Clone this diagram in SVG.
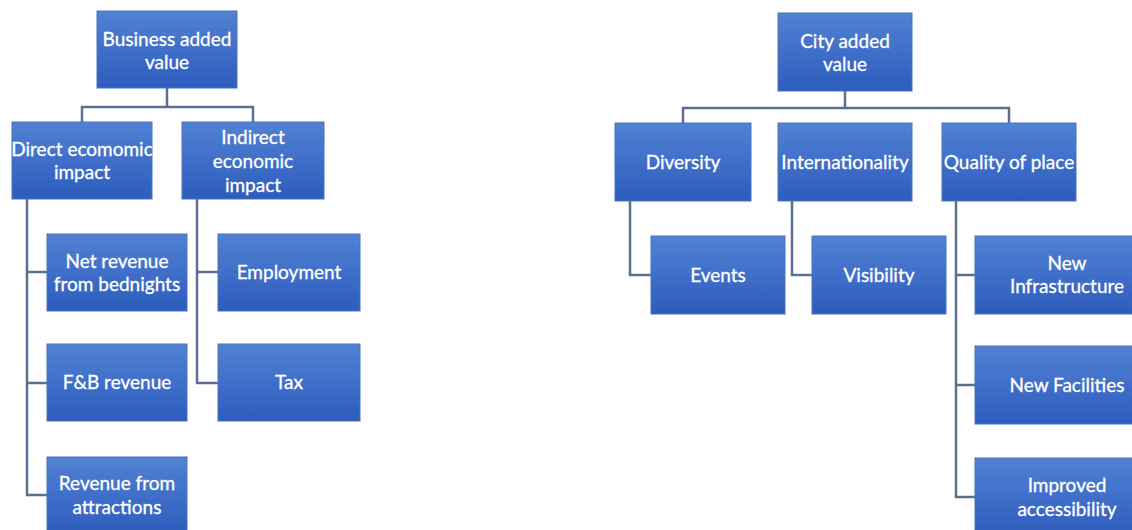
<svg xmlns="http://www.w3.org/2000/svg" width="1132" height="530" viewBox="0 0 1132 530">
  <defs>
    <linearGradient id="boxFill" x1="0" y1="0" x2="0" y2="1">
      <stop offset="0" stop-color="#5282d2"/>
      <stop offset="0.5" stop-color="#3f6fc9"/>
      <stop offset="1" stop-color="#2d5cbd"/>
    </linearGradient>
    <style>
      .box { fill: url(#boxFill); stroke: #4a72bd; stroke-width: 1; }
      .lbl { fill: #ffffff; stroke: #ffffff; stroke-width: 0.3; font-family: Lato, "Open Sans", "Liberation Sans", sans-serif; font-size: 19px; text-anchor: middle; }
      .link { fill: none; stroke: #5b6f93; stroke-width: 2.5; }
    </style>
  </defs>
  <rect width="1132" height="530" fill="#ffffff"/>

  <!-- tree connectors -->
  <g id="connectors">
    <!-- business added value -->
    <path class="link" d="M167,88 V107 M82,122 V107 H253 V122"/>
    <path class="link" d="M27,199 V495 H47 M27,272 H47 M27,383 H47"/>
    <path class="link" d="M197,199 V383 H218 M197,272 H218"/>
    <!-- city added value -->
    <path class="link" d="M845,91 V108 M683,123 V108 H1009 V123"/>
    <path class="link" d="M630,201 V275 H651"/>
    <path class="link" d="M792,201 V275 H812"/>
    <path class="link" d="M956,201 V497 H975 M956,275 H975 M956,385 H975"/>
  </g>

  <!-- business added value tree -->
  <g id="business-added-value">
    <rect class="box" x="97" y="11" width="140" height="77"/>
    <text class="lbl" x="167" y="46">Business added</text>
    <text class="lbl" x="167" y="69">value</text>
  </g>
  <g id="direct-impact">
    <rect class="box" x="12" y="122" width="140" height="77"/>
    <text class="lbl" x="82" y="156">Direct ecomomic</text>
    <text class="lbl" x="82" y="179">impact</text>
  </g>
  <g id="indirect-impact">
    <rect class="box" x="182" y="122" width="142" height="77"/>
    <text class="lbl" x="253" y="144">Indirect</text>
    <text class="lbl" x="253" y="168">economic</text>
    <text class="lbl" x="253" y="192">impact</text>
  </g>
  <g id="net-revenue">
    <rect class="box" x="47" y="234" width="140" height="77"/>
    <text class="lbl" x="117" y="268">Net revenue</text>
    <text class="lbl" x="117" y="291">from bednights</text>
  </g>
  <g id="fb-revenue">
    <rect class="box" x="47" y="344" width="140" height="77"/>
    <text class="lbl" x="117" y="389">F&amp;B revenue</text>
  </g>
  <g id="attractions-revenue">
    <rect class="box" x="47" y="457" width="140" height="77"/>
    <text class="lbl" x="117" y="490">Revenue from</text>
    <text class="lbl" x="117" y="514">attractions</text>
  </g>
  <g id="employment">
    <rect class="box" x="218" y="234" width="142" height="77"/>
    <text class="lbl" x="289" y="279">Employment</text>
  </g>
  <g id="tax">
    <rect class="box" x="218" y="344" width="142" height="77"/>
    <text class="lbl" x="289" y="389">Tax</text>
  </g>

  <!-- city added value tree -->
  <g id="city-added-value">
    <rect class="box" x="778" y="13" width="134" height="78"/>
    <text class="lbl" x="845" y="48">City added</text>
    <text class="lbl" x="845" y="71">value</text>
  </g>
  <g id="diversity">
    <rect class="box" x="615" y="123" width="136" height="78"/>
    <text class="lbl" x="683" y="169">Diversity</text>
  </g>
  <g id="internationality">
    <rect class="box" x="778" y="123" width="134" height="78"/>
    <text class="lbl" x="845" y="169">Internationality</text>
  </g>
  <g id="quality-of-place">
    <rect class="box" x="942" y="123" width="134" height="78"/>
    <text class="lbl" x="1009" y="169">Quality of place</text>
  </g>
  <g id="events">
    <rect class="box" x="651" y="236" width="134" height="78"/>
    <text class="lbl" x="718" y="282">Events</text>
  </g>
  <g id="visibility">
    <rect class="box" x="812" y="236" width="134" height="78"/>
    <text class="lbl" x="879" y="282">Visibility</text>
  </g>
  <g id="new-infrastructure">
    <rect class="box" x="975" y="236" width="180" height="78"/>
    <text class="lbl" x="1067" y="270">New</text>
    <text class="lbl" x="1067" y="293">Infrastructure</text>
  </g>
  <g id="new-facilities">
    <rect class="box" x="975" y="346" width="180" height="78"/>
    <text class="lbl" x="1067" y="392">New Facilities</text>
  </g>
  <g id="improved-accessibility">
    <rect class="box" x="975" y="458" width="180" height="78"/>
    <text class="lbl" x="1067" y="492">Improved</text>
    <text class="lbl" x="1067" y="516">accessibility</text>
  </g>
</svg>
